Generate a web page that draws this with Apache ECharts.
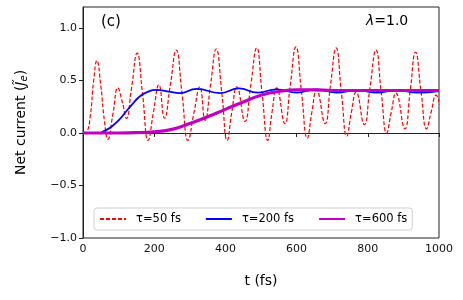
<!DOCTYPE html>
<html>
<head>
<meta charset="utf-8">
<script src="https://cdn.jsdelivr.net/npm/echarts@6/dist/echarts.min.js"></script>
<style>html,body{margin:0;padding:0;background:#fff;}#c{width:463px;height:300px;}</style>
</head>
<body>
<div id="c"></div>
<script>
var seriesNames = ['τ=50 fs', 'τ=200 fs', 'τ=600 fs'];
var xTicks = [0, 200, 400, 600, 800, 1000];
var yTicks = [-1.0, -0.5, 0.0, 0.5, 1.0];

var tau50 = [[0,0],[10,0.01],[20,0.15],[30,0.5],[39,0.69],[50,0.45],[60,0.12],[70,-0.06],[84,0.18],[98,0.43],[110,0.3],[122,0.14],[136,0.42],[152,0.76],[167,0.38],[183,-0.07],[198,0.2],[213,0.46],[229,0.14],[245,0.45],[262,0.79],[278,0.38],[295,-0.07],[312,0.2],[328,0.44],[343,0.12],[358,0.45],[374,0.8],[390,0.38],[405,-0.07],[418,0.2],[432,0.44],[455,0.11],[471,0.45],[488,0.81],[503,0.38],[519,-0.07],[531,0.2],[544,0.43],[567,0.09],[582,0.45],[598,0.82],[614,0.38],[630,-0.05],[643,0.2],[656,0.41],[680,0.09],[695,0.45],[711,0.81],[726,0.38],[741,-0.03],[754,0.2],[767,0.39],[790,0.08],[806,0.43],[823,0.79],[838,0.38],[853,0.0],[866,0.2],[879,0.38],[904,0.04],[919,0.4],[934,0.77],[950,0.38],[965,0.04],[978,0.2],[992,0.36],[1000,0.3]];
var tau200 = [[0,0],[45,0],[60,0.02],[80,0.06],[100,0.12],[120,0.2],[140,0.28],[160,0.35],[180,0.39],[205,0.41],[240,0.395],[272,0.38],[319,0.42],[385,0.38],[438,0.425],[490,0.385],[544,0.415],[600,0.385],[656,0.415],[713,0.385],[769,0.41],[825,0.385],[881,0.41],[940,0.385],[1000,0.4]];
var tau600 = [[0,0],[100,0],[150,0.003],[200,0.012],[250,0.035],[300,0.09],[350,0.155],[400,0.225],[450,0.295],[500,0.36],[550,0.395],[600,0.41],[650,0.41],[700,0.405],[800,0.405],[900,0.405],[1000,0.405]];

function fmt(v){ return (v < 0 ? '\u2212' : '') + Math.abs(v).toFixed(1); }

var chart = echarts.init(document.getElementById('c'), null, {renderer:'canvas'});
var font = 'DejaVu Sans';
chart.setOption({
  animation: false,
  backgroundColor: '#fff',
  textStyle: {fontFamily: font},
  grid: {left: 83, right: 24, top: 7, bottom: 62, show: true, borderColor: '#222', borderWidth: 1, containLabel: false},
  xAxis: {
    type: 'value', min: 0, max: 1000, interval: 200,
    name: 't (fs)', nameLocation: 'middle', nameGap: 36,
    nameTextStyle: {fontSize: 14, color: '#000', fontFamily: font},
    axisLine: {show: true, lineStyle: {color: '#222', width: 1}},
    axisTick: {show: true, length: 4, lineStyle: {color: '#222'}},
    axisLabel: {fontSize: 11, color: '#111', margin: 6, fontFamily: font,
      formatter: function(v){ return xTicks.indexOf(v) >= 0 ? String(v) : ''; }},
    splitLine: {show: false}
  },
  yAxis: {
    type: 'value', min: -1.0, max: 1.2, interval: 0.5,
    name: 'Net current ({i|J\u0303}{s|e})', nameLocation: 'middle', nameGap: 54,
    nameTextStyle: {fontSize: 14, color: '#000', fontFamily: font,
      rich: {i: {fontSize: 14, fontStyle: 'italic', color: '#000', fontFamily: font}, s: {fontSize: 10, fontStyle: 'italic', padding: [6,0,0,0], color: '#000', fontFamily: font}}},
    axisLine: {show: true, lineStyle: {color: '#222', width: 1}},
    axisTick: {show: true, length: 4, lineStyle: {color: '#222'}},
    axisLabel: {fontSize: 11, color: '#111', margin: 6, fontFamily: font, showMaxLabel: false,
      formatter: function(v){ for (var k=0;k<yTicks.length;k++){ if (Math.abs(yTicks[k]-v) < 1e-6) return fmt(v);} return ''; }},
    splitLine: {show: false}
  },
  legend: {
    left: 94, top: 208, padding: [5, 5, 5, 5], itemGap: 24, itemWidth: 26, itemHeight: 10,
    borderColor: '#d0d0d0', borderWidth: 1, borderRadius: 3, backgroundColor: 'rgba(255,255,255,0.85)',
    itemStyle: {opacity: 0},
    textStyle: {fontSize: 11.5, color: '#000', fontFamily: font, padding: [0,0,0,5]},
    data: seriesNames
  },
  graphic: [
    {type: 'text', left: 101, top: 15, style: {text: '(c)', font: '15px DejaVu Sans', fill: '#000'}},
    {type: 'text', left: 366, top: 14, style: {text: '{i|λ}=1.0', font: '14px DejaVu Sans', fill: '#000', rich: {i: {fontStyle: 'italic', fontSize: 14, fontFamily: font, fill: '#000'}}}}
  ],
  series: [
    {name: seriesNames[0], type: 'line', data: tau50, smooth: 0.5, symbol: 'none', showSymbol: false, lineStyle: {color: '#ff0000', width: 1.2, type: [4, 2]}, itemStyle: {color: '#ff0000'}, z: 2},
    {name: seriesNames[1], type: 'line', data: tau200, smooth: 0.5, symbol: 'none', showSymbol: false, lineStyle: {color: '#0000ff', width: 1.8}, itemStyle: {color: '#0000ff'}, z: 3},
    {name: seriesNames[2], type: 'line', data: tau600, smooth: 0.5, symbol: 'none', showSymbol: false, lineStyle: {color: '#bf00bf', width: 3.2}, itemStyle: {color: '#bf00bf'}, z: 4}
  ]
});
</script>
</body>
</html>
